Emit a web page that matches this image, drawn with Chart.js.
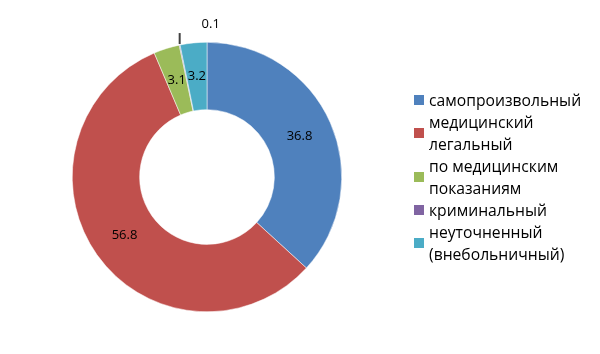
<!DOCTYPE html>
<html>
<head>
<meta charset="utf-8">
<script src="https://cdn.jsdelivr.net/npm/chart.js@4"></script>
<style>
    body { margin: 0; background: #fff; }
    #wrap { position: relative; width: 600px; height: 354px; }
    #legend { position: absolute; left: 414px; top: 89px; font-family: 'Open Sans', sans-serif; font-size: 15.7px; color: #000; }
    .item { display: flex; align-items: center; line-height: 22px; }
    .box { width: 10px; height: 10px; margin-right: 5px; flex: none; }
</style>
</head>
<body>
<div id="wrap">
    <canvas id="chart" width="600" height="354"></canvas>
    <div id="legend"></div>
</div>
<script>
const categories = [
    ['самопроизвольный'],
    ['медицинский', 'легальный'],
    ['по медицинским', 'показаниям'],
    ['криминальный'],
    ['неуточненный', '(внебольничный)']
];
const values = [36.8, 56.8, 3.1, 0.1, 3.2];
const colors = ['#4F81BD', '#C0504D', '#9BBB59', '#8064A2', '#4BACC6'];

// legend
const legend = document.getElementById('legend');
categories.forEach((lines, i) => {
    const row = document.createElement('div');
    row.className = 'item';
    row.innerHTML = `<span class="box" style="background:${colors[i]}"></span><span>${lines.join('<br>')}</span>`;
    legend.appendChild(row);
});

// data labels on the ring
const labelPlugin = {
    id: 'sliceLabels',
    afterDatasetsDraw(chart) {
        const ctx = chart.ctx;
        const meta = chart.getDatasetMeta(0);
        ctx.save();
        ctx.font = '13px "Open Sans", sans-serif';
        ctx.fillStyle = '#000';
        ctx.textAlign = 'center';
        ctx.textBaseline = 'middle';
        meta.data.forEach((arc, i) => {
            const v = values[i];
            if (v < 1) {
                // tiny slice: leader line + label above
                const mid = (arc.startAngle + arc.endAngle) / 2;
                const x = arc.x + Math.cos(mid) * arc.outerRadius;
                const y = arc.y + Math.sin(mid) * arc.outerRadius;
                ctx.strokeStyle = '#404040';
                ctx.lineWidth = 2;
                ctx.beginPath();
                ctx.moveTo(x, y - 1);
                ctx.lineTo(x, y - 12);
                ctx.stroke();
                ctx.fillText(v.toFixed(1), x + 31, y - 21);
            } else {
                const p = arc.tooltipPosition();
                ctx.fillText(v.toFixed(1), p.x, p.y);
            }
        });
        ctx.restore();
    }
};

new Chart(document.getElementById('chart'), {
    type: 'doughnut',
    data: {
        labels: categories.map(c => c.join(' ')),
        datasets: [{
            data: values,
            backgroundColor: colors,
            borderColor: '#ffffff',
            borderWidth: 0.5
        }]
    },
    options: {
        responsive: false,
        animation: false,
        cutout: '50%',
        layout: { padding: { top: 42, bottom: 42, right: 186 } },
        plugins: {
            legend: { display: false },
            tooltip: { enabled: false }
        }
    },
    plugins: [labelPlugin]
});
</script>
</body>
</html>
